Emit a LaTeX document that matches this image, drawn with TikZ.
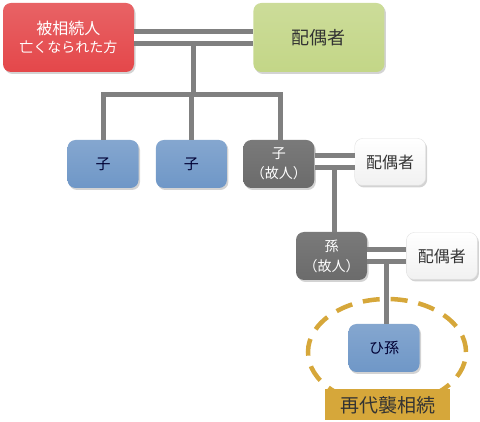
\documentclass[tikz,border=0pt]{standalone}
\usepackage{xcolor}
\usepackage{fontspec}
\setmainfont{Noto Sans CJK JP}
\usepackage{tikz}
\usetikzlibrary{shapes.geometric, positioning, calc, shadows}

\definecolor{redfill}{HTML}{E4474A}
\definecolor{greenfill}{HTML}{C3D687}
\definecolor{bluefill}{HTML}{6F97C7}
\definecolor{grayfill}{HTML}{6B6B6B}
\definecolor{whitefill}{HTML}{F1F1F1}
\definecolor{linkgray}{HTML}{808080}
\definecolor{goldfill}{HTML}{D6A73A}

\begin{document}
\begin{tikzpicture}[
  x=1pt, y=-1pt,
  box/.style={rectangle, rounded corners=8pt, align=center, inner sep=2pt,
             drop shadow={opacity=0.35, shadow xshift=1.5pt, shadow yshift=-2pt}},
  bigbox/.style={box, minimum width=131pt, minimum height=69pt},
  smallbox/.style={box, minimum width=71pt, minimum height=48pt},
  deadbox/.style={bigbox, top color=redfill!85!white, bottom color=redfill,
             text=white, font=\fontsize{16}{19}\selectfont},
  spousebox/.style={bigbox, top color=greenfill!85!white, bottom color=greenfill,
             text=black!80, font=\fontsize{18}{20}\selectfont},
  childbox/.style={smallbox, top color=bluefill!85!white, bottom color=bluefill,
             text=blue!20!black, font=\fontsize{15}{18}\selectfont},
  lostbox/.style={smallbox, top color=grayfill!90!white, bottom color=grayfill,
             text=white, font=\fontsize{14}{20}\selectfont},
  inlawbox/.style={smallbox, minimum height=47pt, top color=white, bottom color=whitefill,
             draw=black!12, text=black!80, font=\fontsize{16}{18}\selectfont},
  link/.style={draw=linkgray, line width=5pt},
  couple/.style={draw=linkgray, line width=5pt, double=white, double distance=7pt}
]
\useasboundingbox (0,0) rectangle (480,422);

% first generation
\node[deadbox] (dead) at (68.5,37.5) {被相続人\\[-1pt]{\fontsize{14}{16}\selectfont 亡くなられた方}};
\node[spousebox, right=119pt of dead] (spouse) {配偶者};

% children
\node[childbox] (kid1) at (103,164) {子};
\node[childbox, right=17pt of kid1] (kid2) {子};
\node[lostbox, right=16pt of kid2] (kid3) {子\\（故人）};
\node[inlawbox, right=40pt of kid3, yshift=2pt] (kidspouse) {配偶者};

% grandchildren
\node[lostbox] (grand) at (331.5,256) {孫\\（故人）};
\node[inlawbox, right=39pt of grand] (grandspouse) {配偶者};

% great-grandchild
\node[childbox] (great) at (384,348) {ひ孫};
\node[ellipse, draw=goldfill, line width=4.5pt, dash pattern=on 17pt off 11pt,
      minimum width=158pt, minimum height=106pt] (ring) at (387,352) {};
\node[rectangle, fill=goldfill, minimum width=125pt, minimum height=31pt,
      text=black!80, font=\fontsize{19}{20}\selectfont] (label) at (387.5,405) {再代襲相続};

% connectors
\coordinate (m1) at ($(dead.east)!0.5!(spouse.west)$);
\coordinate (bar) at ($(m1)+(0,57.5)$);
\draw[link] (m1) -- (bar);
\draw[link] (kid1.north) |- (bar) -| ([xshift=1.5pt]kid3.north);
\draw[link] (kid2.north |- bar) -- (kid2.north);
\draw[couple] (dead.east |- m1) -- (spouse.west |- m1);

\coordinate (m2) at ($(kid3.east |- kidspouse.west)!0.5!(kidspouse.west)$);
\draw[link] (m2) -- (m2 |- grand.north);
\draw[couple] (kid3.east |- kidspouse.west) -- (kidspouse.west);

\coordinate (m3) at ($(grand.east)!0.5!(grand.east -| grandspouse.west)$);
\draw[link] (m3) -- (m3 |- great.north);
\draw[couple] (grand.east) -- (grand.east -| grandspouse.west);

\end{tikzpicture}
\end{document}
